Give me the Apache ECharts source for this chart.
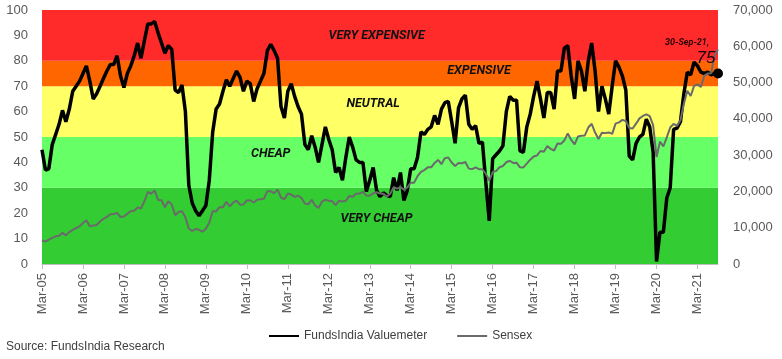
<!DOCTYPE html>
<html><head><meta charset="utf-8">
<script src="https://cdn.jsdelivr.net/npm/echarts@6/dist/echarts.min.js"></script>
<style>html,body{margin:0;padding:0;background:#fff}#c{width:782px;height:359px}</style>
</head><body><div id="c"></div>
<script>
// ---- data ----
const monthNames = ['Jan','Feb','Mar','Apr','May','Jun','Jul','Aug','Sep','Oct','Nov','Dec'];
const categories = [];
for (let y = 2005; y <= 2021; y++) {
  for (let m = 0; m < 12; m++) {
    if (y === 2005 && m < 2) continue;
    if (y === 2021 && m > 8) continue;
    categories.push(monthNames[m] + '-' + String(y).slice(2));
  }
}
const valuemeter = [
  45, 37, 37.5, 47, 51, 55, 60.5, 56, 61, 68,                 // 2005 Mar-Dec
  70, 72, 75, 78, 72, 65, 67, 70, 73, 76, 78.5, 78.5,         // 2006
  82, 74, 69.5, 75, 78, 82, 87, 81, 88, 94.5, 94.5, 95.5,     // 2007
  91, 87, 83, 86, 84.5, 68.5, 67.5, 70.5, 60, 31, 24, 21,     // 2008
  19, 21, 23, 33, 52, 61, 63, 68, 72.5, 70, 73, 76,           // 2009
  73.5, 68, 72, 71, 64, 69, 72, 75, 84, 86.5, 84, 81,         // 2010
  62, 57.5, 68, 71, 66, 62, 59, 47, 45, 50.5, 46, 40,         // 2011
  47, 54, 49, 45, 36, 38, 33, 42, 50, 46, 41, 40,             // 2012
  40, 28.5, 33, 38, 29, 26.5, 28, 27, 26.5, 34, 29, 36,       // 2013
  25, 29, 37.5, 37.5, 42, 52, 51, 53, 54, 58.5, 55, 61,       // 2014
  63.5, 64, 56, 47.5, 61.5, 65, 66.5, 55, 53, 54.5, 47.5, 48, // 2015
  32, 17, 41.5, 43, 44.5, 46.5, 60, 66, 64.5, 64.5, 44.5, 44, // 2016
  54, 59, 66, 72, 65, 57.5, 67.5, 67.5, 61, 76, 76, 85,       // 2017
  86, 74, 65, 80, 76, 68, 80, 87, 76, 60, 70, 65,             // 2018
  59, 70, 80, 77.5, 74, 68.5, 42.5, 41, 47.5, 50, 51, 57,     // 2019
  54, 44, 1, 12.5, 12.5, 26, 30, 53, 53.5, 56, 67, 75.5,      // 2020
  74.5, 79.5, 78, 75.5, 75, 75.5, 74.5, 75, 75                // 2021 Jan-Sep
];
const sensex = [
  6493, 6154, 6715, 7194, 7635, 7805, 8634, 7892, 8789, 9398,
  9920, 10370, 11280, 12043, 10399, 10609, 10744, 11699, 12454, 12962, 13696, 13787,
  14091, 12938, 13072, 13872, 14544, 14651, 15551, 15319, 17291, 19838, 19363, 20287,
  17649, 17578, 15644, 17287, 16416, 13462, 14356, 14565, 12860, 9788, 9093, 9647,
  9424, 8892, 9709, 11403, 14625, 14494, 15670, 15667, 17127, 15896, 16926, 17465,
  16358, 16430, 17528, 17559, 16945, 17701, 17868, 17971, 20069, 20032, 19521, 20509,
  18328, 17823, 19445, 19136, 18503, 18846, 18197, 16676, 16454, 17705, 16123, 15455,
  17194, 17753, 17404, 17319, 16219, 17430, 17236, 17430, 18763, 18505, 19340, 19427,
  19895, 18862, 18836, 19504, 19760, 19396, 19346, 18620, 19380, 21165, 20792, 21171,
  20514, 21120, 22386, 22418, 24217, 25414, 25895, 26638, 26631, 27866, 28694, 27499,
  29183, 29362, 27957, 27011, 27828, 27781, 28115, 26283, 26155, 26657, 26146, 26118,
  24871, 23002, 25342, 25607, 26668, 26999, 28052, 28452, 27866, 27930, 26653, 26626,
  27656, 28743, 29621, 29918, 31146, 30922, 32515, 31730, 31284, 33213, 33149, 34057,
  35965, 34184, 32969, 35160, 35322, 35423, 37607, 38645, 36227, 34442, 36194, 36068,
  36257, 35867, 38673, 39032, 39714, 39395, 37481, 37333, 38667, 40129, 40794, 41254,
  40723, 38297, 29468, 33718, 32424, 34916, 37607, 38628, 38068, 39614, 44150, 47751,
  46286, 49100, 49509, 48782, 51937, 52483, 52587, 57552, 59126
];
const bandEdges = [[0, 30], [30, 50], [50, 70], [70, 80], [80, 100]];
const bandNames = ['VERY CHEAP', 'CHEAP', 'NEUTRAL', 'EXPENSIVE', 'VERY EXPENSIVE'];
const seriesNames = ['FundsIndia Valuemeter', 'Sensex'];
const lastDateLabel = '30-Sep-21,';
const lastValue = 75;

// ---- styles / positions ----
const bandColors = ['#33cc33', '#66ff66', '#ffff66', '#ff6600', '#ff2b2b'];
const bandLabelAt = [[98, 17.7], [67, 43.3], [97, 63], [128, 76], [98, 89.8]]; // [monthIndex, value]
const FONT = '"Liberation Sans", Arial, sans-serif';

const chart = echarts.init(document.getElementById('c'), null, {renderer: 'canvas'});
const option = {
  animation: false,
  backgroundColor: '#fff',
  grid: {left: 42, right: 64, top: 10, bottom: 95},
  legend: {
    data: seriesNames,
    left: 264, top: 325,
    itemWidth: 30, itemHeight: 2, itemGap: 30,
    icon: 'rect',
    textStyle: {fontSize: 12, color: '#404040', fontFamily: FONT}
  },
  xAxis: {
    type: 'category', data: categories, boundaryGap: false,
    axisLine: {lineStyle: {color: '#bfbfbf', width: 1}},
    axisTick: {interval: 11, length: 5, lineStyle: {color: '#bfbfbf'}},
    axisLabel: {interval: 11, rotate: 90, fontSize: 13, color: '#595959', fontFamily: FONT, margin: 9},
    splitLine: {show: false}
  },
  yAxis: [
    {type: 'value', min: 0, max: 100, interval: 10, position: 'left',
     axisLine: {show: false}, axisTick: {show: false}, splitLine: {show: false},
     axisLabel: {fontSize: 13, color: '#595959', fontFamily: FONT, margin: 14}},
    {type: 'value', min: 0, max: 70000, interval: 10000, position: 'right',
     axisLine: {show: false}, axisTick: {show: false}, splitLine: {show: false},
     axisLabel: {fontSize: 13, color: '#595959', fontFamily: FONT, margin: 15,
       formatter: v => v.toLocaleString('en-US')}}
  ],
  series: [
    {name: 'bands', type: 'line', data: [], yAxisIndex: 0, silent: true, z: 1,
     markArea: {silent: true,
       data: bandEdges.map((b, i) => [{yAxis: b[0], itemStyle: {color: bandColors[i], opacity: 1}}, {yAxis: b[1]}])}},
    {name: seriesNames[0], type: 'line', data: valuemeter, yAxisIndex: 0, z: 3,
     symbol: 'none', lineStyle: {color: '#000', width: 3.5}, itemStyle: {color: '#000'},
     markPoint: {symbol: 'circle', symbolSize: 10, itemStyle: {color: '#000'}, label: {show: false},
       data: [{coord: [valuemeter.length - 1, lastValue]}]}},
    {name: seriesNames[1], type: 'line', data: sensex, yAxisIndex: 1, z: 4,
     symbol: 'none', lineStyle: {color: '#6a6a6a', width: 2}, itemStyle: {color: '#6a6a6a'}}
  ],
  graphic: [
    {type: 'text', left: 6, top: 341, style: {text: 'Source: FundsIndia Research', fontSize: 12, fill: '#404040', font: '12px ' + FONT}}
  ]
};
chart.setOption(option);

const g = [];
bandNames.forEach((t, i) => {
  const p = chart.convertToPixel({xAxisIndex: 0, yAxisIndex: 0}, bandLabelAt[i]);
  g.push({type: 'text', x: p[0], y: p[1], z: 10,
    style: {text: t, font: 'italic bold 12.5px Roboto, sans-serif', fill: '#111', align: 'center', verticalAlign: 'middle'}});
});
const pe = chart.convertToPixel({xAxisIndex: 0, yAxisIndex: 0}, [valuemeter.length - 1, lastValue]);
g.push({type: 'text', x: pe[0] - 31, y: pe[1] - 31, z: 10,
  style: {text: lastDateLabel, font: 'italic bold 9px Roboto, sans-serif', fill: '#2a0000', align: 'center', verticalAlign: 'middle'}});
g.push({type: 'text', x: pe[0] - 12, y: pe[1] - 15, z: 10,
  style: {text: String(lastValue), font: 'italic 17px "Liberation Sans", sans-serif', fill: '#1a0000', align: 'center', verticalAlign: 'middle'}});
chart.setOption({graphic: option.graphic.concat(g)});
</script>
</body></html>
